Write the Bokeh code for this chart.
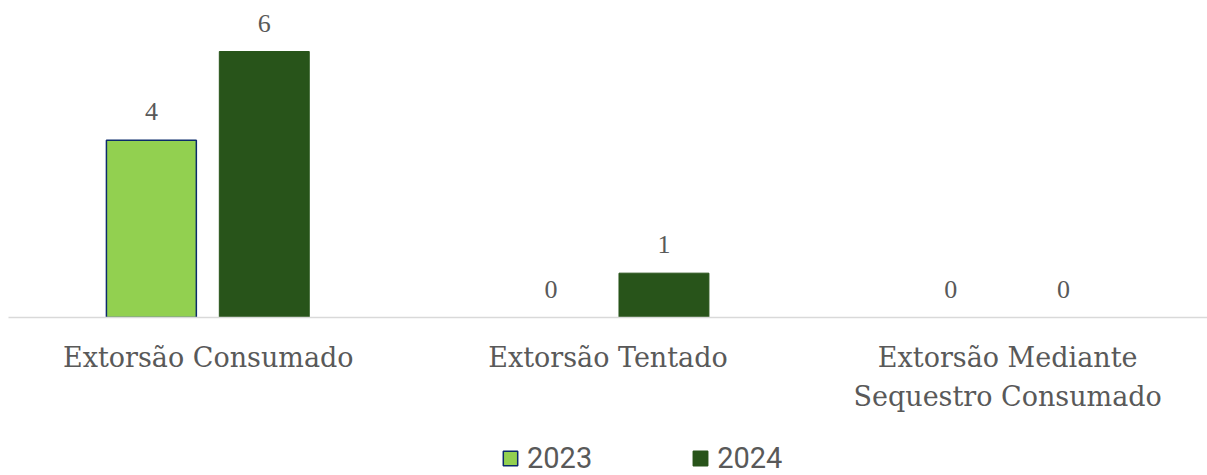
from bokeh.plotting import figure
from bokeh.layouts import column
from bokeh.models import ColumnDataSource, FactorRange, Range1d, LabelSet, Legend, LegendItem
from bokeh.transform import dodge
from bokeh.embed import file_html
from bokeh.resources import INLINE

categories = ["Extorsão Consumado", "Extorsão Tentado", "Extorsão Mediante\nSequestro Consumado"]
series_names = ["2023", "2024"]
values_2023 = [4, 0, 0]
values_2024 = [6, 1, 0]
colors = ["#92D050", "#28541A"]
outlines = ["#0B2A6B", "#28541A"]
offsets = [-0.1425, 0.14]

src = ColumnDataSource(dict(cat=categories, v2023=values_2023, v2024=values_2024,
                            l2023=[str(v) for v in values_2023], l2024=[str(v) for v in values_2024],
                            a2023=[1 if v else 0 for v in values_2023], a2024=[1] * len(values_2024)))

xr = FactorRange(*categories, range_padding=0)
p = figure(x_range=xr, y_range=Range1d(0, 6.97),
           width=1207, height=437, output_backend="svg", toolbar_location=None,
           min_border_left=8, min_border_right=0, min_border_top=8, min_border_bottom=120,
           outline_line_color=None, background_fill_color="white", border_fill_color="white")

# legend strip
pl = figure(width=1207, height=38, output_backend="svg", toolbar_location=None,
            x_range=xr, y_range=Range1d(100, 101),
            x_axis_location=None, y_axis_location=None, min_border=0,
            outline_line_color=None, background_fill_color="white", border_fill_color="white")
pl.xgrid.grid_line_color = None
pl.ygrid.grid_line_color = None

items = []
for name, fc, lc, off in zip(series_names, colors, outlines, offsets):
    lw = 1.5 if name == "2023" else 1
    p.vbar(x=dodge("cat", off, range=xr), top="v" + name, width=0.225, source=src,
           fill_color=fc, line_color=lc, line_alpha="a" + name, line_width=lw)
    p.add_layout(LabelSet(x=dodge("cat", off, range=xr), y="v" + name, text="l" + name,
                          source=src, text_align="center", text_baseline="bottom", y_offset=20,
                          text_font="DejaVu Serif", text_font_size="26px", text_color="#595959"))
    r = pl.vbar(x=dodge("cat", off, range=xr), top="v" + name, width=0.225, source=src,
                fill_color=fc, line_color=lc, line_width=1.5, visible=False)
    items.append(LegendItem(label=name, renderers=[r]))

p.yaxis.visible = False
p.xgrid.grid_line_color = None
p.ygrid.grid_line_color = None
xa = p.xaxis[0]
xa.axis_line_color = "#D9D9D9"
xa.axis_line_width = 1.5
xa.major_tick_line_color = None
xa.minor_tick_line_color = None
xa.major_label_standoff = 18
xa.major_label_text_font = "DejaVu Serif"
xa.major_label_text_font_size = "27px"
xa.major_label_text_color = "#595959"
xa.major_label_text_line_height = 1.27

legend = Legend(items=items, orientation="horizontal", location=(493, 0), padding=0, margin=0,
                spacing=99, glyph_width=18, glyph_height=18, label_standoff=8, label_height=18,
                label_text_font="Roboto", label_text_font_size="29px", label_text_color="#595959",
                inactive_fill_alpha=0, border_line_color=None, background_fill_alpha=0)
pl.add_layout(legend, "center")

layout = column(p, pl, spacing=0)
open("out.html", "w").write(file_html(layout, INLINE))
